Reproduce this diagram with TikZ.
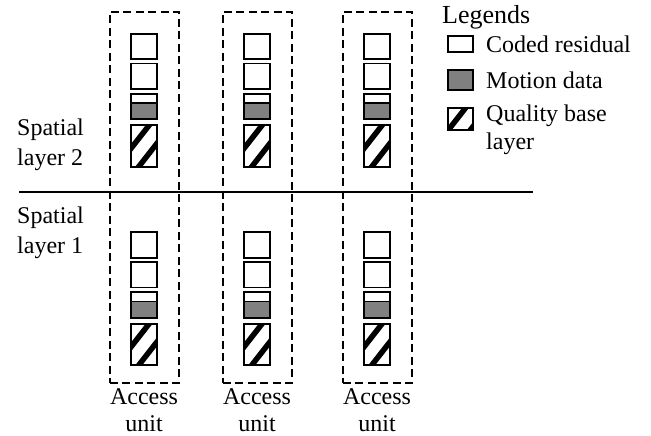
\documentclass[tikz,border=0pt]{standalone}
\usepackage{fontspec}
\setmainfont{Liberation Serif}
\usetikzlibrary{positioning}
\definecolor{mgray}{gray}{0.5}

\tikzset{
  lbl/.style={font=\fontsize{24}{28}\selectfont, align=left, inner sep=2pt},
  aubox/.style={draw, dash pattern=on 8pt off 4.5pt, line width=2pt,
    minimum width=69pt, minimum height=371pt, inner sep=0pt},
  blk/.style={draw, line width=1.8pt, minimum width=25.5pt, inner sep=0pt},
  resid/.style={blk, minimum height=25.5pt},
  mfull/.style={blk, fill=mgray},
  mdata/.style={blk, minimum height=25.5pt, path picture={
      \fill[mgray] ([yshift=-9pt]path picture bounding box.north west)
        rectangle (path picture bounding box.south east);
      \draw[line width=1.5pt] ([yshift=-9pt]path picture bounding box.north west)
        -- ([yshift=-9pt]path picture bounding box.north east);}},
  qbase/.style={blk, minimum height=41.5pt, path picture={
      \foreach \k in {0,1,2}
        \draw[line width=5.5pt] ([xshift=18pt+\k*22pt]path picture bounding box.north west)
          ++(8,-10.3) -- ++(-50,64);}},
}

\begin{document}
\begin{tikzpicture}[x=1pt, y=-1pt]
  \useasboundingbox (0,0) rectangle (651,436);

  % access units, one column each, two spatial layers
  \foreach \x [count=\i] in {144,257,377} {
    \node[aubox] (au\i) at (\x,197.5) {};
    \node[lbl, align=center, inner sep=0pt,
      font=\fontsize{24}{27}\selectfont] (aul\i) at (\x,410) {Access\\unit};
    \foreach \y/\l in {46.5/2, 245/1} {
      \node[resid] (ra\i\l) at (\x,\y) {};
      \node[resid, below=2.5pt of ra\i\l] (rb\i\l) {};
      \node[mdata, below=3pt of rb\i\l] (md\i\l) {};
      \node[qbase, below=4pt of md\i\l] (qb\i\l) {};
    }
  }

  % layer split
  \coordinate (sepL) at (19,192);
  \coordinate (sepR) at (533,192);
  \draw[line width=1.3pt] (sepL) -- (sepR);

  \node[lbl, anchor=west, font=\fontsize{24}{30}\selectfont] (sl2) at (15,145) {Spatial\\layer 2};
  \node[lbl, anchor=west, font=\fontsize{24}{30}\selectfont] (sl1) at (15,232.5) {Spatial\\layer 1};

  % legend
  \node[lbl, anchor=west, font=\fontsize{26}{28}\selectfont] (leg) at (440,17) {Legends};
  \node[resid, minimum height=16.5pt] (lgr) at (460.5,44) {};
  \node[mfull, minimum height=20.5pt] (lgm) at (460.5,80) {};
  \node[qbase, minimum height=22.5pt] (lgq) at (460.5,119) {};
  \node[lbl, anchor=west] (lgrt) at (484,44) {Coded residual};
  \node[lbl, anchor=west] (lgmt) at (484,80) {Motion data};
  \node[lbl, anchor=west] (lgqt) at (484,130) {Quality base\\layer};
\end{tikzpicture}
\end{document}
